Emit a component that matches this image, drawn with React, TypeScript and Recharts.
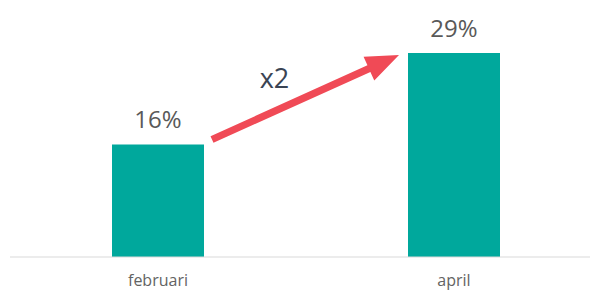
import { BarChart, Bar, XAxis, YAxis, LabelList, ReferenceLine } from 'recharts'

const months = ['februari', 'april']
const shares = [16, 29]
const growthLabel = 'x2'

const data = months.map((m, i) => ({ month: m, share: shares[i] }))

const FONT = '"Open Sans", "Noto Sans", sans-serif'

// arrow between the two bar tops, offsets in px relative to the band centers
function GrowthArrow(props: any) {
  const { x1, y1, x2, y2 } = props
  if (x1 == null || x2 == null) return null
  const sx = x1 + 54
  const sy = y1 - 5
  const ex = x2 - 55
  const ey = y2 + 2
  const dx = ex - sx
  const dy = ey - sy
  const len = Math.sqrt(dx * dx + dy * dy)
  const ux = dx / len
  const uy = dy / len
  const px = -uy
  const py = ux
  const headLen = 33
  const headHalf = 13
  const shaftHalf = 3.6
  const bx = ex - ux * headLen
  const by = ey - uy * headLen
  const pts = [
    [sx + px * shaftHalf, sy + py * shaftHalf],
    [bx + px * shaftHalf, by + py * shaftHalf],
    [bx + px * headHalf, by + py * headHalf],
    [ex, ey],
    [bx - px * headHalf, by - py * headHalf],
    [bx - px * shaftHalf, by - py * shaftHalf],
    [sx - px * shaftHalf, sy - py * shaftHalf],
  ]
  const mx = (sx + ex) / 2
  const my = (sy + ey) / 2
  return (
    <g>
      <polygon points={pts.map((p) => p.join(',')).join(' ')} fill="#F04A56" />
      <text x={mx - 31} y={my - 9} textAnchor="middle" fontSize={27} fontFamily={FONT} fill="#3A4454">
        {growthLabel}
      </text>
    </g>
  )
}

export default function App() {
  return (
    <div style={{ position: 'absolute', left: 0, top: 0, width: 590, height: 291, overflow: 'hidden', background: '#fff' }}>
      <BarChart width={612} height={291} data={data} margin={{ top: 46, right: 10, left: 10, bottom: 0 }}>
        <XAxis
          dataKey="month"
          height={34}
          axisLine={{ stroke: '#d9d9d9', strokeWidth: 1 }}
          tickLine={false}
          tickMargin={12}
          tick={{ fill: '#636363', fontSize: 16, fontFamily: FONT }}
        />
        <YAxis hide domain={[0, 30]} />
        <Bar dataKey="share" fill="#00A89C" barSize={92} isAnimationActive={false}>
          <LabelList
            dataKey="share"
            position="top"
            offset={16}
            formatter={(v: any) => `${v}%`}
            style={{ fill: '#595959', fontSize: 24, fontFamily: FONT }}
          />
        </Bar>
        <ReferenceLine
          segment={[{ x: months[0], y: shares[0] }, { x: months[1], y: shares[1] }]}
          ifOverflow="visible"
          shape={(p: any) => <GrowthArrow {...p} />}
        />
      </BarChart>
    </div>
  )
}
